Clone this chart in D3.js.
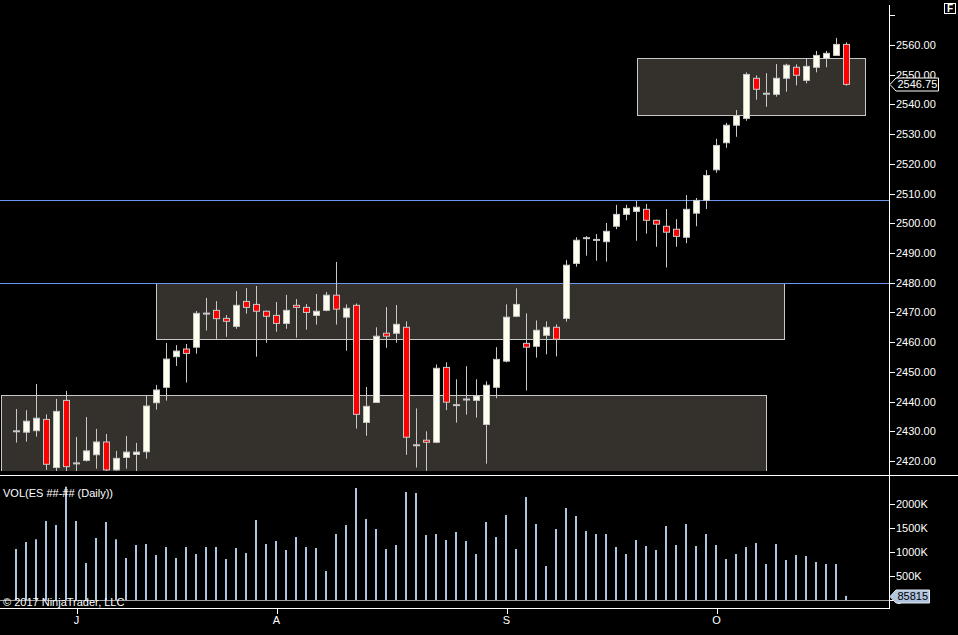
<!DOCTYPE html>
<html>
<head>
<meta charset="utf-8">
<script src="https://cdn.jsdelivr.net/npm/d3@7"></script>
<style>
  body { margin: 0; background: #000; }
  svg { display: block; font-family: Arial, "Liberation Sans", sans-serif; }
  .axis text { fill: #fff; font-size: 11px; }
  .axis line { stroke: #fff; shape-rendering: crispEdges; }
</style>
</head>
<body>
<div id="chart"></div>
<script>
// daily ES bars, one per session
const opens  = [2430.0,2429.7,2430.2,2434.0,2417.8,2440.4,2419.2,2420.2,2422.1,2426.4,2417.0,2421.2,2422.2,2423.1,2439.6,2444.8,2455.1,2457.7,2458.3,2469.6,
                2470.7,2468.0,2465.3,2473.7,2472.7,2470.4,2469.0,2466.3,2472.4,2471.7,2469.0,2470.7,2475.8,2468.4,2472.4,2433.0,2439.7,2463.0,2463.0,2465.0,
                2425.3,2427.0,2426.3,2451.5,2438.8,2440.7,2440.4,2432.3,2444.8,2453.6,2468.7,2459.6,2458.6,2462.3,2465.0,2468.0,2486.5,2495.0,2494.4,2493.8,
                2499.0,2503.0,2504.0,2504.7,2501.0,2499.0,2498.0,2495.3,2503.4,2507.7,2518.0,2527.1,2533.0,2535.3,2548.8,2543.6,2543.4,2548.8,2552.5,2548.1,
                2552.5,2555.5,2556.5,2560.2];
const highs  = [2437.5,2437.1,2445.9,2435.7,2440.9,2443.6,2428.1,2434.8,2430.8,2429.1,2423.4,2428.4,2426.1,2441.9,2445.6,2459.7,2459.0,2459.4,2470.5,2474.9,
                2473.8,2469.1,2477.2,2478.2,2478.9,2470.6,2473.5,2475.9,2474.5,2472.8,2476.2,2476.9,2487.0,2472.7,2473.0,2444.9,2465.0,2471.8,2472.5,2467.0,
                2437.7,2430.0,2452.5,2453.2,2447.5,2451.9,2447.5,2446.8,2458.3,2472.7,2478.1,2469.7,2467.3,2467.0,2466.0,2487.6,2495.3,2495.7,2496.4,2500.1,
                2506.2,2506.2,2507.5,2506.5,2501.2,2504.8,2501.4,2509.5,2508.5,2517.9,2528.4,2533.8,2538.1,2550.8,2549.8,2550.5,2553.6,2553.7,2553.5,2555.5,
                2558.0,2558.0,2562.4,2560.9];
const lows   = [2426.2,2426.5,2428.2,2417.0,2416.5,2416.5,2416.5,2419.8,2417.4,2416.0,2416.0,2417.4,2416.5,2420.8,2437.3,2440.3,2452.0,2446.4,2456.1,2463.9,
                2461.1,2461.8,2464.5,2469.6,2455.1,2459.8,2463.5,2464.5,2461.5,2464.2,2465.9,2470.4,2465.9,2457.1,2430.9,2428.5,2439.5,2458.1,2459.8,2422.1,
                2417.8,2416.7,2426.0,2437.1,2432.9,2435.6,2434.6,2419.1,2441.1,2453.2,2468.4,2443.7,2454.8,2455.9,2455.2,2466.9,2485.4,2489.1,2487.4,2487.1,
                2498.0,2501.0,2494.1,2496.5,2492.1,2485.1,2492.1,2493.3,2499.0,2504.8,2517.0,2525.4,2529.1,2534.5,2541.6,2539.2,2542.6,2544.3,2546.4,2547.1,
                2550.8,2552.5,2556.5,2546.3];
const closes = [2430.0,2433.4,2434.4,2418.9,2436.7,2418.1,2419.2,2423.4,2426.4,2417.0,2420.9,2423.0,2423.0,2438.5,2443.9,2454.3,2457.0,2456.2,2469.7,2469.6,
                2467.9,2467.0,2472.4,2471.7,2470.4,2468.7,2466.3,2470.7,2471.7,2470.0,2470.4,2475.8,2471.1,2471.4,2435.7,2438.4,2462.0,2462.0,2466.0,2428.0,
                2425.3,2426.3,2451.2,2439.8,2438.8,2440.7,2441.9,2445.5,2454.2,2468.4,2472.7,2458.3,2464.0,2465.0,2461.0,2485.9,2494.3,2495.0,2494.4,2497.3,
                2503.0,2505.0,2505.4,2501.0,2499.7,2497.0,2495.6,2504.7,2507.7,2516.1,2526.2,2533.0,2536.2,2550.1,2545.1,2543.6,2548.8,2553.2,2549.8,2552.8,
                2556.5,2557.2,2560.2,2546.75];
const volumes = [1062000,1208000,1264000,1646000,1562000,2360000,1646000,771000,1292000,1625000,1264000,875000,1146000,1167000,937000,1104000,875000,1104000,958000,1104000,
                 1104000,854000,1083000,979000,1667000,1167000,1229000,1042000,1312000,1104000,1083000,604000,1375000,1562000,2333000,1687000,1479000,1062000,1146000,2250000,
                 2229000,1354000,1375000,1250000,1417000,1229000,958000,1625000,1312000,1771000,1062000,2146000,1583000,708000,1479000,1917000,1750000,1437000,1375000,1375000,
                 1104000,958000,1250000,1125000,1042000,1542000,1146000,1583000,1125000,1375000,1146000,854000,958000,1104000,1187000,750000,1167000,833000,937000,917000,
                 792000,750000,750000,85815];

// month starts (bar index) and their labels
const monthBars = [6, 26, 49, 70];
const monthLabels = ["J", "A", "S", "O"];

// axis ticks
const priceTicks = d3.range(2420, 2571, 10);
const volumeTicks = [0, 500000, 1000000, 1500000, 2000000];

// drawn zones: bar-index span and price span
const zoneFrom = [-1.5, 14, 62.1];
const zoneTo   = [75, 76.8, 84.85];
const zoneTop  = [2442.1, 2480, 2555.5];
const zoneBot  = [2410, 2461.0, 2536.3];

// horizontal lines
const levels = [2507.75, 2480];
const lastPrice = 2546.75;

const W = 958, H = 635, axisX = 889;

const svg = d3.select("#chart").append("svg")
  .attr("width", W).attr("height", H);

svg.append("rect").attr("width", W).attr("height", H).attr("fill", "#000");

const xScale = d3.scaleLinear().domain([0, 83]).range([16, 846]);
const yScale = d3.scaleLinear().domain([2420, 2560]).range([461, 45]);
const vScale = d3.scaleLinear().domain([0, 2000000]).range([600, 504]);

svg.append("clipPath").attr("id", "priceClip")
  .append("rect").attr("x", 0).attr("y", 0).attr("width", axisX).attr("height", 471);

const price = svg.append("g").attr("clip-path", "url(#priceClip)");

// zones
price.selectAll("rect.zone")
  .data(zoneFrom)
  .join("rect")
  .attr("class", "zone")
  .attr("x", (d, i) => Math.round(xScale(d)) + 0.5)
  .attr("y", (d, i) => Math.round(yScale(zoneTop[i])) + 0.5)
  .attr("width", (d, i) => Math.round(xScale(zoneTo[i]) - xScale(d)))
  .attr("height", (d, i) => Math.round(yScale(zoneBot[i]) - yScale(zoneTop[i])))
  .attr("fill", "#34302b")
  .attr("stroke", "#c8c8c8")
  .attr("stroke-width", 1);

// level lines
price.selectAll("line.level")
  .data(levels)
  .join("line")
  .attr("class", "level")
  .attr("x1", 0).attr("x2", axisX)
  .attr("y1", d => Math.round(yScale(d)) + 0.5)
  .attr("y2", d => Math.round(yScale(d)) + 0.5)
  .attr("stroke", "#6a98ee")
  .attr("stroke-width", 1);

const bars = d3.range(opens.length);

// wicks
price.selectAll("line.wick")
  .data(bars)
  .join("line")
  .attr("class", "wick")
  .attr("x1", i => xScale(i) + 0.5).attr("x2", i => xScale(i) + 0.5)
  .attr("y1", i => yScale(highs[i])).attr("y2", i => yScale(lows[i]))
  .attr("stroke", "#c8c8c8")
  .attr("stroke-width", 1);

// bodies
price.selectAll("rect.body")
  .data(bars.filter(i => opens[i] !== closes[i]))
  .join("rect")
  .attr("class", "body")
  .attr("x", i => xScale(i) - 2.5)
  .attr("width", 6)
  .attr("y", i => yScale(Math.max(opens[i], closes[i])))
  .attr("height", i => Math.max(1, yScale(Math.min(opens[i], closes[i])) - yScale(Math.max(opens[i], closes[i]))))
  .attr("fill", i => closes[i] > opens[i] ? "#fffff0" : "#ff0000")
  .attr("stroke", "#c8c8c8")
  .attr("stroke-width", 1);

// doji bars
price.selectAll("rect.doji")
  .data(bars.filter(i => opens[i] === closes[i]))
  .join("rect")
  .attr("class", "doji")
  .attr("x", i => xScale(i) - 3)
  .attr("width", 7)
  .attr("y", i => yScale(opens[i]) - 1)
  .attr("height", 2)
  .attr("fill", "#c8c8c8");

// volume
const vol = svg.append("g");
vol.append("line")
  .attr("x1", 0).attr("x2", axisX + 1)
  .attr("y1", 600.5).attr("y2", 600.5)
  .attr("stroke", "#a0a0a0");

vol.selectAll("rect.vol")
  .data(bars)
  .join("rect")
  .attr("class", "vol")
  .attr("x", i => xScale(i) - 1)
  .attr("width", 2)
  .attr("y", i => vScale(volumes[i]))
  .attr("height", i => 600 - vScale(volumes[i]))
  .attr("fill", "#b0c4de");

// panel frame lines
svg.append("line").attr("x1", 0).attr("x2", W).attr("y1", 475.5).attr("y2", 475.5)
  .attr("stroke", "#fff");
svg.append("line").attr("x1", 0).attr("x2", axisX).attr("y1", 608.5).attr("y2", 608.5)
  .attr("stroke", "#fff");
svg.append("line").attr("x1", axisX + 0.5).attr("x2", axisX + 0.5).attr("y1", 5).attr("y2", 609)
  .attr("stroke", "#fff");

// price axis
const yAxis = svg.append("g").attr("class", "axis")
  .attr("transform", `translate(${axisX},0)`)
  .call(d3.axisRight(yScale).tickValues(priceTicks).tickSize(6).tickPadding(1)
    .tickFormat(d => d === 2570 ? "" : d.toFixed(2)));
yAxis.select(".domain").remove();

// volume axis
const vAxis = svg.append("g").attr("class", "axis")
  .attr("transform", `translate(${axisX},0)`)
  .call(d3.axisRight(vScale).tickValues(volumeTicks).tickSize(6).tickPadding(1)
    .tickFormat(d => d === 0 ? "0" : (d / 1000) + "K"));
vAxis.select(".domain").remove();

// time axis
const xAxis = svg.append("g").attr("class", "axis")
  .attr("transform", "translate(0,608)")
  .call(d3.axisBottom(xScale).tickValues(monthBars).tickSize(6).tickPadding(2)
    .tickFormat((d, i) => monthLabels[i]));
xAxis.select(".domain").remove();
xAxis.selectAll(".tick line").attr("transform", "translate(0.5,0)");

// value markers on the axis
function marker(yc, right, label, fill, stroke, color) {
  const g = svg.append("g");
  g.append("path")
    .attr("d", `M${axisX + 1},${yc} L${axisX + 7},${yc - 6.5} L${right},${yc - 6.5} L${right},${yc + 6.5} L${axisX + 7},${yc + 6.5} Z`)
    .attr("fill", fill).attr("stroke", stroke);
  g.append("text")
    .attr("x", axisX + 8.5).attr("y", yc).attr("dy", "0.35em")
    .attr("font-size", 11).attr("fill", color)
    .text(label);
}
marker(Math.round(yScale(lastPrice)) + 0.5, 938.5, lastPrice.toFixed(2), "#000", "#fff", "#fff");
const lastVol = volumes[volumes.length - 1];
marker(Math.round(vScale(lastVol)) + 0.5, 929.5, d3.format("d")(lastVol), "#b0c4de", "#dfe7f1", "#000");

// labels
svg.append("text").attr("x", 3).attr("y", 497)
  .attr("font-size", 11).attr("fill", "#fff")
  .text("VOL(ES ##-## (Daily))");
svg.append("text").attr("x", 3).attr("y", 606)
  .attr("font-size", 11).attr("fill", "#fff")
  .text("© 2017 NinjaTrader, LLC");

// F box
svg.append("rect").attr("x", 944.5).attr("y", 3.5).attr("width", 11).attr("height", 10)
  .attr("fill", "none").attr("stroke", "#fff");
svg.append("text").attr("x", 950).attr("y", 12).attr("text-anchor", "middle")
  .attr("font-size", 10).attr("font-weight", "bold").attr("fill", "#fff").text("F");
</script>
</body>
</html>
